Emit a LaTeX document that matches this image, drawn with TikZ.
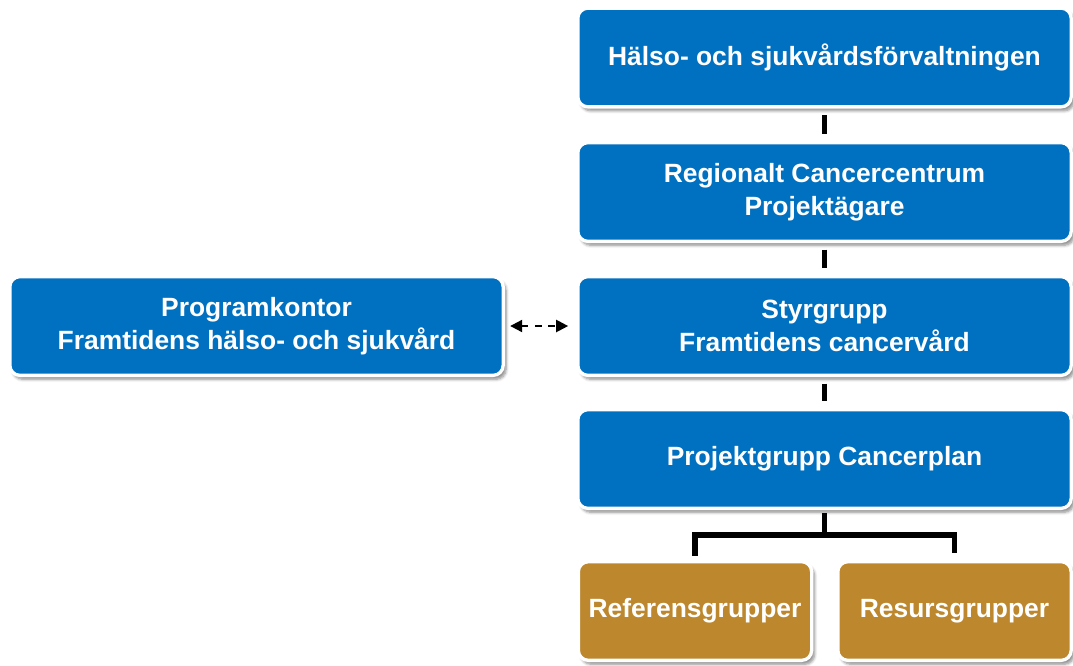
\documentclass[tikz,border=0pt]{standalone}
\usepackage{fontspec}
\setmainfont{Liberation Sans}
\usetikzlibrary{arrows.meta,shadows.blur}
\definecolor{orgblue}{RGB}{0,112,192}
\definecolor{orggold}{RGB}{188,135,45}
\tikzset{
  orgbox/.style={draw=white, line width=2.5pt, rounded corners=7.5pt,
    minimum height=74pt, text=white, align=center,
    font=\bfseries\fontsize{19.8}{24.5}\selectfont,
    blur shadow={shadow xshift=2.2pt, shadow yshift=-3pt, shadow blur steps=6, shadow opacity=45}},
  bluebox/.style={orgbox, fill=orgblue, minimum width=370pt},
  goldbox/.style={orgbox, fill=orggold, minimum width=175pt},
  link/.style={line width=3.8pt, draw=black},
}
\begin{document}
\begin{tikzpicture}[x=0.75pt,y=-0.75pt]
\useasboundingbox (0,0) rectangle (1073,665);
\node[bluebox] (forv) at (824.5,57.5) {Hälso- och sjukvårdsförvaltningen};
\node[bluebox] (rcc) at (824.5,192) {Regionalt Cancercentrum\\Projektägare};
\node[bluebox] (styr) at (824.5,326) {Styrgrupp\\Framtidens cancervård};
\node[bluebox] (proj) at (824.5,459) {Projektgrupp Cancerplan};
\node[bluebox] (prog) at (256.5,326) {Programkontor\\Framtidens hälso- och sjukvård};
\node[goldbox] (ref) at (695,611) {Referensgrupper};
\node[goldbox] (res) at (954.5,611) {Resursgrupper};

\draw[link, shorten <=5pt, shorten >=5pt] (forv.south) -- (rcc.north);
\draw[link, shorten <=5pt, shorten >=5pt] (rcc.south) -- (styr.north);
\draw[link, shorten <=5pt, shorten >=5pt] (styr.south) -- (proj.north);
\draw[link, line cap=rect, shorten <=4pt, shorten >=5pt] (proj.south) |- ++(0,25) -| (ref.north);
\draw[link, shorten >=5pt] (proj.south) ++(0,25) -| (res.north);

\draw[line width=1.6pt, dash pattern=on 5pt off 5pt,
  {Triangle[length=9pt,width=9pt]}-{Triangle[length=9pt,width=9pt]},
  shorten <=4pt, shorten >=6pt] (prog.east) -- (styr.west);
\end{tikzpicture}
\end{document}
